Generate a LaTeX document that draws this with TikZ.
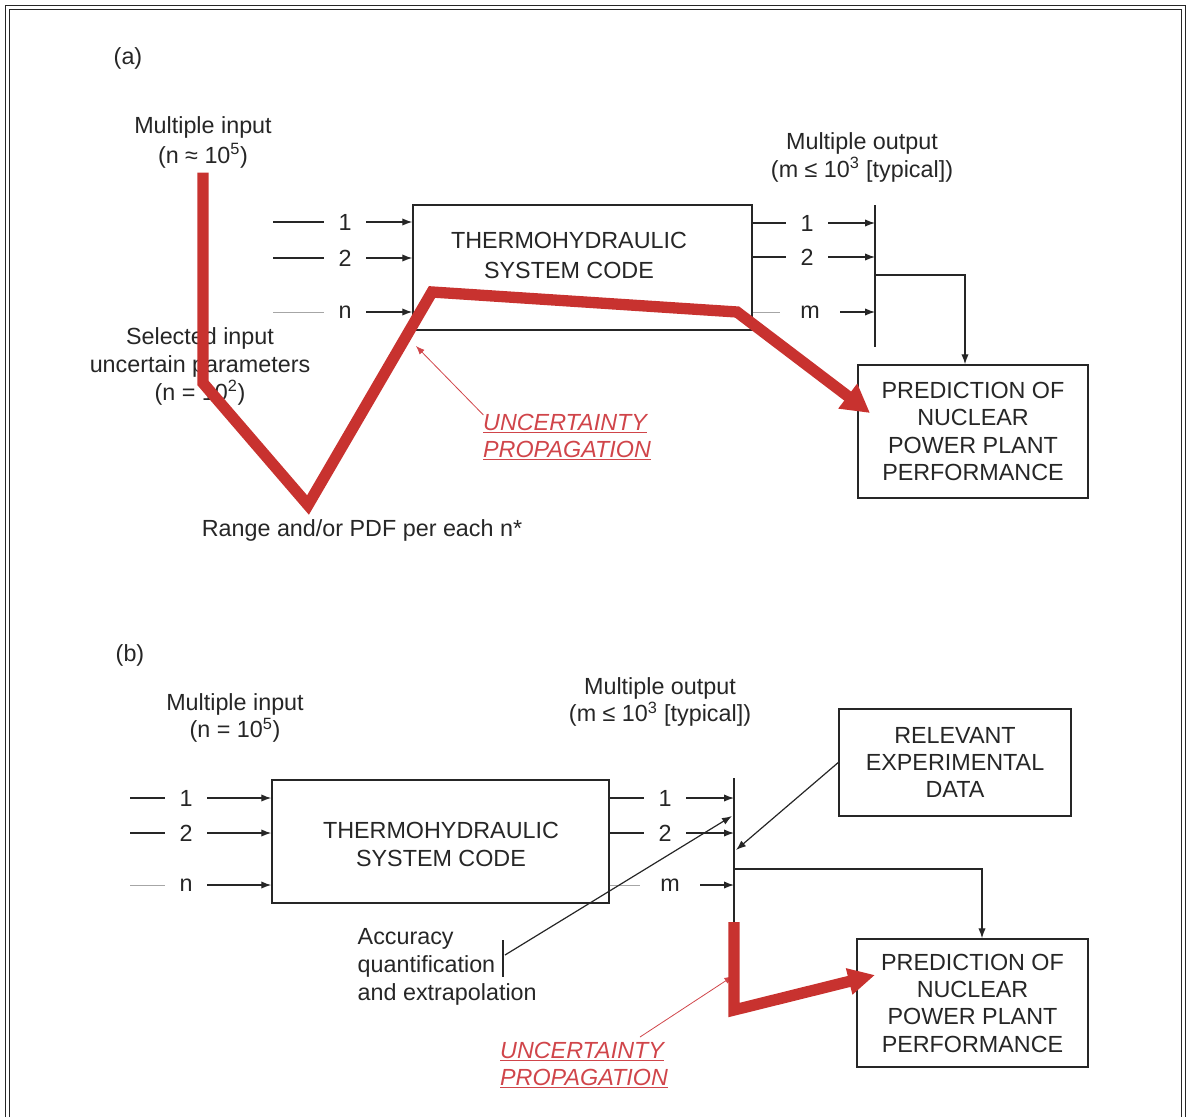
\documentclass[tikz,border=0pt]{standalone}
\usepackage{fontspec}
\setmainfont{Liberation Sans}
\usetikzlibrary{arrows.meta}
\definecolor{ink}{HTML}{262626}
\definecolor{propred}{HTML}{C8322F}
\definecolor{notered}{HTML}{D0454A}

\begin{document}
\begin{tikzpicture}[x=0.75pt,y=-0.75pt,
  every node/.style={font=\fontsize{17.5}{21}\selectfont, text=ink},
  frame/.style={draw=ink, line width=1.1pt},
  blockbox/.style={draw=ink, line width=1.1pt, inner sep=0pt},
  feed/.style={draw=ink, line width=0.9pt},
  faint/.style={draw=gray!70, line width=0.6pt},
  arr/.style={feed, -{Latex[length=7.5pt,width=5.5pt]}},
  port/.style={inner sep=0pt, minimum width=31.5pt, minimum height=15pt},
  wideport/.style={port, minimum width=45pt},
  propline/.style={draw=propred, line width=8.5pt, line join=miter, miter limit=10},
  propnote/.style={text=notered, font=\fontsize{17.5}{20.5}\selectfont\itshape, align=left},
  pointer/.style={draw=notered, line width=0.6pt}
]
\useasboundingbox (0,0) rectangle (1187,1117);

% double frame
\draw[frame] (5.5,1117) -- (5.5,5.5) -- (1185.5,5.5) -- (1185.5,1117);
\draw[frame] (9.5,1117) -- (9.5,9.5) -- (1181.5,9.5) -- (1181.5,1117);

% ---------------- (a) ----------------
\node (tag-a) at (128,58) {(a)};
\node[align=center, font=\fontsize{17.5}{22.5}\selectfont] (in-a) at (203,142) {Multiple input\\(n ≈ 10\textsuperscript{5})};
\node[align=center] (out-a) at (862,157) {Multiple output\\(m ≤ 10\textsuperscript{3} [typical])};

\node[blockbox, minimum width=254.25pt, minimum height=93.75pt] (code-a) at (582.5,267.5) {};
\node[align=center, font=\fontsize{17.5}{22.5}\selectfont] (codetext-a) at (569,255) {THERMOHYDRAULIC\\SYSTEM CODE};

% inputs
\node[port] (ia1) at (345,222) {1};
\node[port] (ia2) at (345,258) {2};
\node[port] (ian) at (345,312) {n};
\coordinate (ia1-s) at (273,222);
\coordinate (ia2-s) at (273,258);
\coordinate (ian-s) at (273,312);
\draw[feed] (ia1-s) -- (ia1);
\draw[feed] (ia2-s) -- (ia2);
\draw[faint] (ian-s) -- (ian);
\draw[arr] (ia1) -- (ia1 -| code-a.west);
\draw[arr] (ia2) -- (ia2 -| code-a.west);
\draw[arr] (ian) -- (ian -| code-a.west);

% outputs and collector bar
\coordinate (bar-a-top) at (875,205);
\coordinate (bar-a-bot) at (875,347);
\draw[feed, line width=1.1pt] (bar-a-top) -- (bar-a-bot);
\node[port] (oa1) at (807,223) {1};
\node[port] (oa2) at (807,257) {2};
\node[wideport] (oam) at (810,312) {m};
\draw[feed] (code-a.east |- oa1) -- (oa1);
\draw[feed] (code-a.east |- oa2) -- (oa2);
\draw[faint] (code-a.east |- oam) -- (oam);
\draw[arr] (oa1) -- (oa1 -| bar-a-top);
\draw[arr] (oa2) -- (oa2 -| bar-a-top);
\draw[arr] (oam) -- (oam -| bar-a-top);

\node[blockbox, minimum width=172.5pt, minimum height=99.75pt, align=center, font=\fontsize{17.5}{20.5}\selectfont] (pred-a) at (973,431.5) {PREDICTION OF\\NUCLEAR\\POWER PLANT\\PERFORMANCE};
\coordinate (split-a) at (875,275);
\coordinate (turn-a) at (965,275);
\draw[arr] (split-a) -- (turn-a) -- (turn-a |- pred-a.north);

\node[align=center] (sel-a) at (200,366) {Selected input\\uncertain parameters\\(n = 10\textsuperscript{2})};
\node (pdf-a) at (362,530) {Range and/or PDF per each n*};

% uncertainty propagation path
\coordinate (ra1) at (203,383);
\coordinate (ra2) at (308,505);
\coordinate (ra3) at (432,292);
\coordinate (ra4) at (737,312);
\coordinate (ra-tip) at (870,413);
\draw[propline, -{Triangle[length=21pt,width=22pt]}] (in-a.south) -- (ra1) -- (ra2) -- (ra3) -- (ra4) -- (ra-tip);

\node[propnote] (ua) at (567,437) {\underline{UNCERTAINTY}\\\underline{PROPAGATION}};
\coordinate (ua-tip) at (416,346);
\draw[pointer, -{Latex[length=6.5pt,width=5pt]}] ([shift={(5,6)}]ua.north west) -- (ua-tip);

% ---------------- (b) ----------------
\node (tag-b) at (130,655) {(b)};
\node[align=center, font=\fontsize{17.5}{20.5}\selectfont] (in-b) at (235,718) {Multiple input\\(n = 10\textsuperscript{5})};
\node[align=center, font=\fontsize{17.5}{20.5}\selectfont] (out-b) at (660,702) {Multiple output\\(m ≤ 10\textsuperscript{3} [typical])};

\node[blockbox, minimum width=252.75pt, minimum height=92.25pt] (code-b) at (440.5,841.5) {};
\node[align=center] (codetext-b) at (441,844) {THERMOHYDRAULIC\\SYSTEM CODE};

% inputs
\node[port] (ib1) at (186,798) {1};
\node[port] (ib2) at (186,833) {2};
\node[port] (ibn) at (186,885) {n};
\coordinate (ib1-s) at (130,798);
\coordinate (ib2-s) at (130,833);
\coordinate (ibn-s) at (130,885);
\draw[feed] (ib1-s) -- (ib1);
\draw[feed] (ib2-s) -- (ib2);
\draw[faint] (ibn-s) -- (ibn);
\draw[arr] (ib1) -- (ib1 -| code-b.west);
\draw[arr] (ib2) -- (ib2 -| code-b.west);
\draw[arr] (ibn) -- (ibn -| code-b.west);

% outputs and collector bar
\coordinate (bar-b-top) at (734,778);
\coordinate (bar-b-bot) at (734,922);
\draw[feed, line width=1.1pt] (bar-b-top) -- (bar-b-bot);
\node[port] (ob1) at (665,798) {1};
\node[port] (ob2) at (665,833) {2};
\node[wideport] (obm) at (670,885) {m};
\draw[feed] (code-b.east |- ob1) -- (ob1);
\draw[feed] (code-b.east |- ob2) -- (ob2);
\draw[faint] (code-b.east |- obm) -- (obm);
\draw[arr] (ob1) -- (ob1 -| bar-b-top);
\draw[arr] (ob2) -- (ob2 -| bar-b-top);
\draw[arr] (obm) -- (obm -| bar-b-top);

% experimental data feeding the comparison
\node[blockbox, minimum width=174pt, minimum height=80.25pt, align=center, font=\fontsize{17.5}{20.5}\selectfont] (exp-b) at (955,762.5) {RELEVANT\\EXPERIMENTAL\\DATA};
\coordinate (exp-hit) at (736,850);
\draw[arr] (exp-b.west) -- (exp-hit);

\node[align=left, anchor=west] (acc-b) at (353,967) {Accuracy\\quantification\\and extrapolation};
\coordinate (tick-top) at (503,940);
\coordinate (tick-bot) at (503,977);
\draw[feed] (tick-top) -- (tick-bot);
\coordinate (acc-from) at (505,955);
\coordinate (acc-hit) at (732,816);
\draw[arr] (acc-from) -- (acc-hit);

\node[blockbox, minimum width=173.25pt, minimum height=96pt, align=center, font=\fontsize{17.5}{20.5}\selectfont] (pred-b) at (972.5,1003) {PREDICTION OF\\NUCLEAR\\POWER PLANT\\PERFORMANCE};
\coordinate (split-b) at (734,869);
\coordinate (turn-b) at (982,869);
\draw[arr] (split-b) -- (turn-b) -- (turn-b |- pred-b.north);

% uncertainty propagation path
\node[propnote] (ub) at (584,1065) {\underline{UNCERTAINTY}\\\underline{PROPAGATION}};
\coordinate (ub-from) at (640,1037);
\coordinate (ub-hit) at (733,976);
\draw[pointer, -{Latex[length=6.5pt,width=5pt]}] (ub-from) -- (ub-hit);

\coordinate (rb1) at (734,1010);
\coordinate (rb-tip) at (875,975);
\draw[propline, -{Triangle[length=20pt,width=19pt]}] (bar-b-bot) -- (rb1) -- (rb-tip);

\end{tikzpicture}
\end{document}
